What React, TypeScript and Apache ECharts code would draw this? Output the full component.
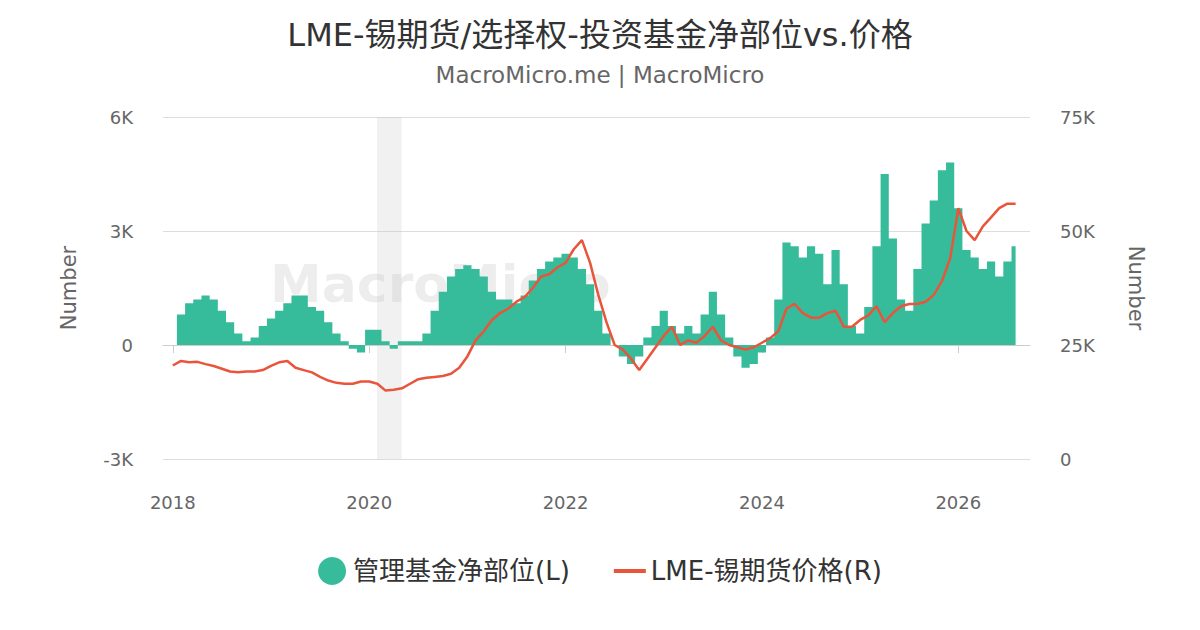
import { useEffect, useRef } from "react";
import * as echarts from "echarts";

// monthly values starting 2018-01
const startYear = 2018;
const netPosition = [
  0, 0.8, 1.1, 1.2, 1.3, 1.2, 0.9, 0.6, 0.3, 0.1, 0.2, 0.5,
  0.7, 0.9, 1.1, 1.3, 1.3, 1.0, 0.9, 0.6, 0.3, 0.1, -0.1, -0.2,
  0.4, 0.4, 0.1, -0.1, 0.1, 0.1, 0.1, 0.3, 0.9, 1.4, 1.8, 2.0,
  2.1, 2.0, 1.8, 1.4, 1.2, 1.2, 1.1, 1.3, 1.7, 2.0, 2.2, 2.3,
  2.4, 2.3, 2.0, 1.6, 0.9, 0.3, 0.0, -0.3, -0.5, -0.3, 0.2, 0.5,
  0.9, 0.5, 0.3, 0.5, 0.3, 0.8, 1.4, 0.8, 0.2, -0.3, -0.6, -0.5,
  -0.2, 0.2, 1.2, 2.7, 2.6, 2.3, 2.6, 2.4, 1.6, 2.5, 1.6, 0.5,
  0.3, 1.0, 2.6, 4.5, 2.8, 1.2, 0.9, 2.0, 3.2, 3.8, 4.6, 4.8,
  3.6, 2.5, 2.3, 2.0, 2.2, 1.8, 2.2, 2.6,
];
const tinPrice = [
  20.5, 21.5, 21.2, 21.3, 20.8, 20.4, 19.8, 19.2, 19.0, 19.2, 19.2, 19.5,
  20.4, 21.2, 21.5, 20.0, 19.5, 19.0, 18.0, 17.2, 16.7, 16.5, 16.5, 17.0,
  17.0, 16.5, 15.0, 15.2, 15.5, 16.5, 17.5, 17.8, 18.0, 18.2, 18.7, 20.0,
  22.5, 26.0, 28.0, 30.5, 32.0, 33.0, 34.5, 35.5, 37.5, 40.0, 40.5, 42.0,
  43.0, 46.0, 48.0, 43.0, 36.0, 30.0, 25.0, 24.0, 22.0, 19.5, 22.0, 24.5,
  27.0, 29.0, 25.0, 26.0, 25.5, 27.0, 29.0, 26.0, 25.0, 24.5, 24.0, 24.5,
  25.5, 26.5, 28.0, 33.0, 34.0, 32.0, 31.0, 31.0, 32.0, 32.5, 29.0, 29.0,
  30.5, 31.5, 33.5, 30.0, 32.0, 33.5, 34.0, 34.0, 34.5, 36.0, 39.0, 44.0,
  55.0, 50.0, 48.0, 51.0, 53.0, 55.0, 56.0, 56.0,
];
const yearTicks = [2018, 2020, 2022, 2024, 2026];
const recession = [2020.08, 2020.33];

const toX = (i: number) => startYear + i / 12;

export default function App() {
  const ref = useRef<HTMLDivElement>(null);
  useEffect(() => {
    if (!ref.current) return;
    const chart = echarts.init(ref.current, undefined, { renderer: "svg" });
    const font = "'DejaVu Sans', 'Noto Sans CJK SC', sans-serif";
    chart.setOption({
      animation: false,
      textStyle: { fontFamily: font },
      title: {
        text: "LME-锡期货/选择权-投资基金净部位vs.价格",
        subtext: "MacroMicro.me | MacroMicro",
        left: "center", top: 6, itemGap: 12,
        textStyle: { fontSize: 32, fontWeight: "normal", color: "#333" },
        subtextStyle: { fontSize: 23, color: "#666" },
      },
      graphic: [{
        type: "text", left: 262, top: 250,
        style: { text: "MacroMicro", fontSize: 52, fontWeight: "bold", fill: "rgba(0,0,0,0.07)", fontFamily: font },
      }],
      legend: {
        bottom: 32, itemGap: 44, itemWidth: 32, itemHeight: 28,
        textStyle: { fontSize: 26, color: "#333" },
        data: [
          { name: "管理基金净部位(L)", icon: "circle" },
          { name: "LME-锡期货价格(R)", icon: "path://M0,12 L32,12 L32,16 L0,16 Z" },
        ],
      },
      grid: { left: 155, right: 162, top: 109, bottom: 163 },
      xAxis: {
        type: "value", min: 2017.9, max: 2026.73,
        splitLine: { show: false },
        axisLine: { lineStyle: { color: "#ccc" } },
        axisTick: { show: true, customValues: yearTicks, length: 8, lineStyle: { color: "#ccc" } },
        axisLabel: { customValues: yearTicks, fontSize: 18, color: "#666", margin: 34, formatter: (v: number) => String(Math.round(v)) },
      },
      yAxis: [
        {
          type: "value", min: -3, max: 6, interval: 3,
          name: "Number", nameLocation: "middle", nameGap: 84, nameRotate: 90,
          nameTextStyle: { fontSize: 21, color: "#666" },
          axisLine: { show: false }, axisTick: { show: false },
          axisLabel: { fontSize: 18, color: "#666", margin: 30, formatter: (v: number) => (v === 0 ? "0" : v + "K") },
          splitLine: { lineStyle: { color: "#ddd" } },
        },
        {
          type: "value", min: 0, max: 75, interval: 25,
          name: "Number", nameLocation: "middle", nameGap: 96, nameRotate: -90,
          nameTextStyle: { fontSize: 21, color: "#666" },
          axisLine: { show: false }, axisTick: { show: false },
          axisLabel: { fontSize: 18, color: "#666", margin: 30, formatter: (v: number) => (v === 0 ? "0" : v + "K") },
          splitLine: { show: false },
        },
      ],
      series: [
        {
          name: "管理基金净部位(L)", type: "line", yAxisIndex: 0, step: "middle",
          symbol: "none", color: "#36bc9b",
          lineStyle: { width: 0 }, areaStyle: { color: "#36bc9b", opacity: 1 },
          data: netPosition.map((v, i) => [toX(i), v]),
          markArea: {
            silent: true, itemStyle: { color: "rgba(200,200,200,0.25)" },
            data: [[{ xAxis: recession[0] }, { xAxis: recession[1] }]],
          },
        },
        {
          name: "LME-锡期货价格(R)", type: "line", yAxisIndex: 1, symbol: "none",
          color: "#e8553a", lineStyle: { width: 2.5 },
          data: tinPrice.map((v, i) => [toX(i), v]),
        },
      ],
    });
    return () => chart.dispose();
  }, []);
  return <div ref={ref} style={{ width: 1184, height: 614 }} />;
}
